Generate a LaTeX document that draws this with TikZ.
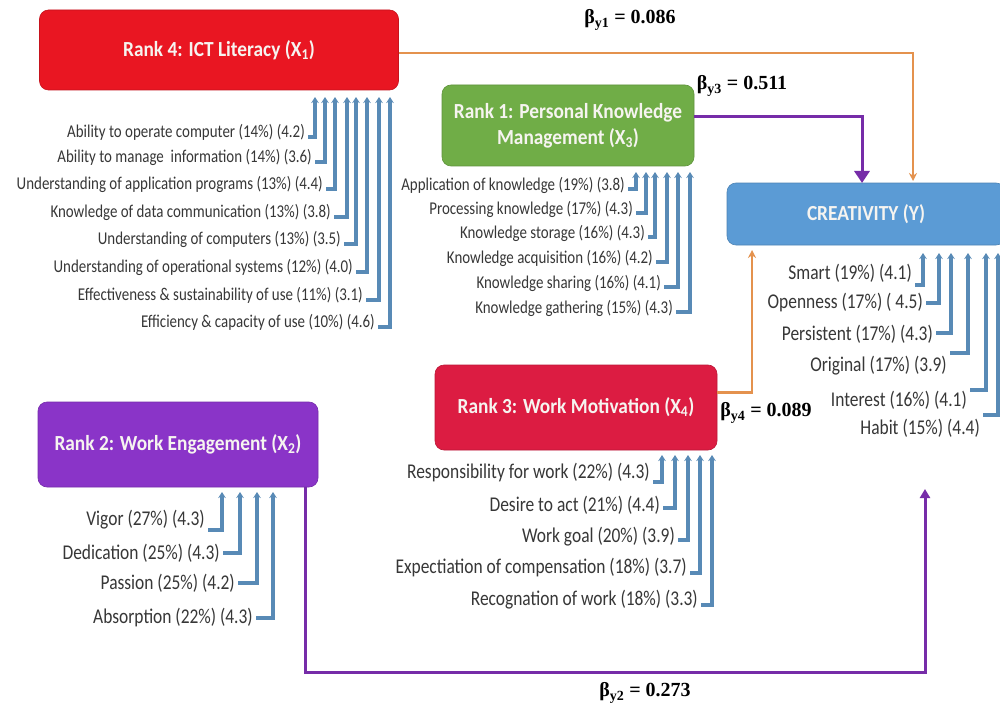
\documentclass[tikz,border=0pt]{standalone}
\usepackage{fontspec}
\setmainfont{Carlito}
\newfontfamily\itemfont[FakeStretch=0.83]{Carlito}
\newfontfamily\titlefont[FakeStretch=0.9]{Carlito}
\newfontfamily\betafont{Liberation Serif}
\usetikzlibrary{arrows.meta}
\definecolor{ictred}{RGB}{233,22,34}
\definecolor{pkmgreen}{RGB}{112,173,71}
\definecolor{creblue}{RGB}{91,155,213}
\definecolor{engpurple}{RGB}{138,52,200}
\definecolor{motred}{RGB}{220,28,66}
\definecolor{boxtxt}{RGB}{246,244,240}
\definecolor{itemgray}{RGB}{55,55,55}
\definecolor{connblue}{RGB}{88,138,182}
\definecolor{orangec}{RGB}{228,146,78}
\definecolor{purplec}{RGB}{118,44,168}
\newcommand\mkitem[8]{%
  \node[#2] (#1) at (#3,#4) {#5};
  \coordinate (#1-tip) at (#6,#8);
  \draw[conn] ([shift={(3,#7)}]#1.east) -| (#1-tip);}
\begin{document}
\begin{tikzpicture}[x=1pt,y=-1pt,
  box/.style={rounded corners=9pt, inner sep=0pt, align=center, text=boxtxt,
    font=\titlefont\fontsize{21.5}{26}\selectfont\bfseries},
  sitem/.style={anchor=east, inner sep=0pt, text=itemgray,
    font=\itemfont\fontsize{18}{20}\selectfont},
  litem/.style={anchor=east, inner sep=0pt, text=itemgray,
    font=\itemfont\fontsize{21}{23}\selectfont},
  conn/.style={draw=connblue, line width=3.2pt, -{Stealth[length=6pt,width=7.5pt]}},
  oline/.style={draw=orangec, line width=2.6pt, -{Stealth[length=8pt,width=8pt]}},
  pline/.style={draw=purplec, line width=3pt, -{Triangle[length=12pt,width=15pt]}},
  pline2/.style={draw=purplec, line width=3pt, -{Triangle[length=9pt,width=10pt]}},
  beta/.style={font=\betafont\bfseries\fontsize{20}{22}\selectfont, inner sep=0pt, text=black}
]
\useasboundingbox (0,0) rectangle (1000,714);
\clip (0,0) rectangle (1000,714);
\fill[white] (0,0) rectangle (1000,714);

% boxes
\node[box, fill=ictred, draw=ictred!85!black, line width=0.6pt,
  minimum width=359pt, minimum height=80pt] (ict) at (219,50) {Rank 4: ICT Literacy (X\textsubscript{1})};
\node[box, fill=pkmgreen, draw=pkmgreen!85!black, line width=0.6pt,
  minimum width=252pt, minimum height=81pt] (pkm) at (568,125.5) {Rank 1: Personal Knowledge\\Management (X\textsubscript{3})};
\node[box, fill=creblue, draw=creblue!85!black, line width=0.6pt,
  minimum width=278pt, minimum height=62pt] (cre) at (866,214) {CREATIVITY (Y)};
\node[box, fill=engpurple, draw=engpurple!85!black, line width=0.6pt,
  minimum width=280pt, minimum height=85pt] (eng) at (178,444.5) {Rank 2: Work Engagement (X\textsubscript{2})};
\node[box, fill=motred, draw=motred!85!black, line width=0.6pt,
  minimum width=282pt, minimum height=85pt] (mot) at (576,407.5) {Rank 3: Work Motivation (X\textsubscript{4})};

% ICT items
\mkitem{ia}{sitem}{305}{132}{Ability to operate computer (14\%) (4.2)}{315}{5}{97}
\mkitem{ib}{sitem}{312}{157}{Ability to manage~ information (14\%) (3.6)}{325}{5}{97}
\mkitem{ic}{sitem}{323}{184}{Understanding of application programs (13\%) (4.4)}{335}{5}{97}
\mkitem{id}{sitem}{331}{212}{Knowledge of data communication (13\%) (3.8)}{347}{5}{97}
\mkitem{ie}{sitem}{341}{239}{Understanding of computers (13\%) (3.5)}{356}{5}{97}
\mkitem{if}{sitem}{353}{267}{Understanding of operational systems (12\%) (4.0)}{367}{5}{97}
\mkitem{ig}{sitem}{363}{295}{Effectiveness \& sustainability of use (11\%) (3.1)}{379}{5}{97}
\mkitem{ih}{sitem}{375}{322}{Efficiency \& capacity of use (10\%) (4.6)}{390}{5}{97}

% PKM items
\mkitem{pa}{sitem}{625}{185}{Application of knowledge (19\%) (3.8)}{636}{4}{172}
\mkitem{pb}{sitem}{633}{209}{Processing knowledge (17\%) (4.3)}{646}{4}{172}
\mkitem{pc}{sitem}{645}{233}{Knowledge storage (16\%) (4.3)}{655}{4}{172}
\mkitem{pd}{sitem}{653}{258}{Knowledge acquisition (16\%) (4.2)}{667}{4}{172}
\mkitem{pe}{sitem}{661}{283}{Knowledge sharing (16\%) (4.1)}{678}{4}{172}
\mkitem{pf}{sitem}{673}{308}{Knowledge gathering (15\%) (4.3)}{690}{4}{172}

% Creativity items
\mkitem{ca}{litem}{912}{273}{Smart (19\%) (4.1)}{923}{12}{253}
\mkitem{cb}{litem}{923}{303}{Openness (17\%) ( 4.5)}{939}{0}{253}
\mkitem{cc}{litem}{933}{334}{Persistent (17\%) (4.3)}{951}{-1}{253}
\mkitem{cd}{litem}{947}{366}{Original (17\%) (3.9)}{968}{-13}{253}
\mkitem{ce}{litem}{967}{400}{Interest (16\%) (4.1)}{986}{-10}{253}
\mkitem{cf}{litem}{980}{428}{Habit (15\%) (4.4)}{998}{-13}{253}

% Engagement items
\mkitem{ea}{litem}{205}{520}{Vigor (27\%) (4.3)}{222}{10}{492}
\mkitem{eb}{litem}{220}{553}{Dedication (25\%) (4.3)}{240}{0}{492}
\mkitem{ec}{litem}{235}{583}{Passion (25\%) (4.2)}{257}{0}{492}
\mkitem{ed}{litem}{253}{618}{Absorption (22\%) (4.3)}{273}{0}{492}

% Motivation items
\mkitem{ma}{litem}{650}{473}{Responsibility for work (22\%) (4.3)}{662}{9}{455}
\mkitem{mb}{litem}{660}{505}{Desire to act (21\%) (4.4)}{675}{3}{455}
\mkitem{mc}{litem}{675}{537}{Work goal (20\%) (3.9)}{688}{3}{455}
\mkitem{md}{litem}{687}{568}{Expectiation of compensation (18\%) (3.7)}{700}{5}{455}
\mkitem{me}{litem}{698}{600}{Recognation of work (18\%) (3.3)}{712}{5}{455}

% structural paths
\coordinate (y1in) at (913,181);
\coordinate (y3in) at (862,183);
\coordinate (y4in) at (752,250);
\coordinate (y2in) at (925,489);
\coordinate (e2s) at ([xshift=-13pt]eng.south east);
\draw[oline] ([yshift=-3pt]ict.east) -| (y1in);
\draw[pline] ([yshift=8.5pt]pkm.east) -| (y3in);
\draw[oline] ([yshift=15pt]mot.east) -| (y4in);
\draw[pline2] (e2s) -- (e2s |- 0,672) -| (y2in);

% coefficients
\node[beta] (b1) at (630,20) {β\textsubscript{y1} = 0.086};
\node[beta] (b3) at (742,86) {β\textsubscript{y3} = 0.511};
\node[beta] (b4) at (766,413) {β\textsubscript{y4} = 0.089};
\node[beta] (b2) at (645,693) {β\textsubscript{y2} = 0.273};
\end{tikzpicture}
\end{document}
